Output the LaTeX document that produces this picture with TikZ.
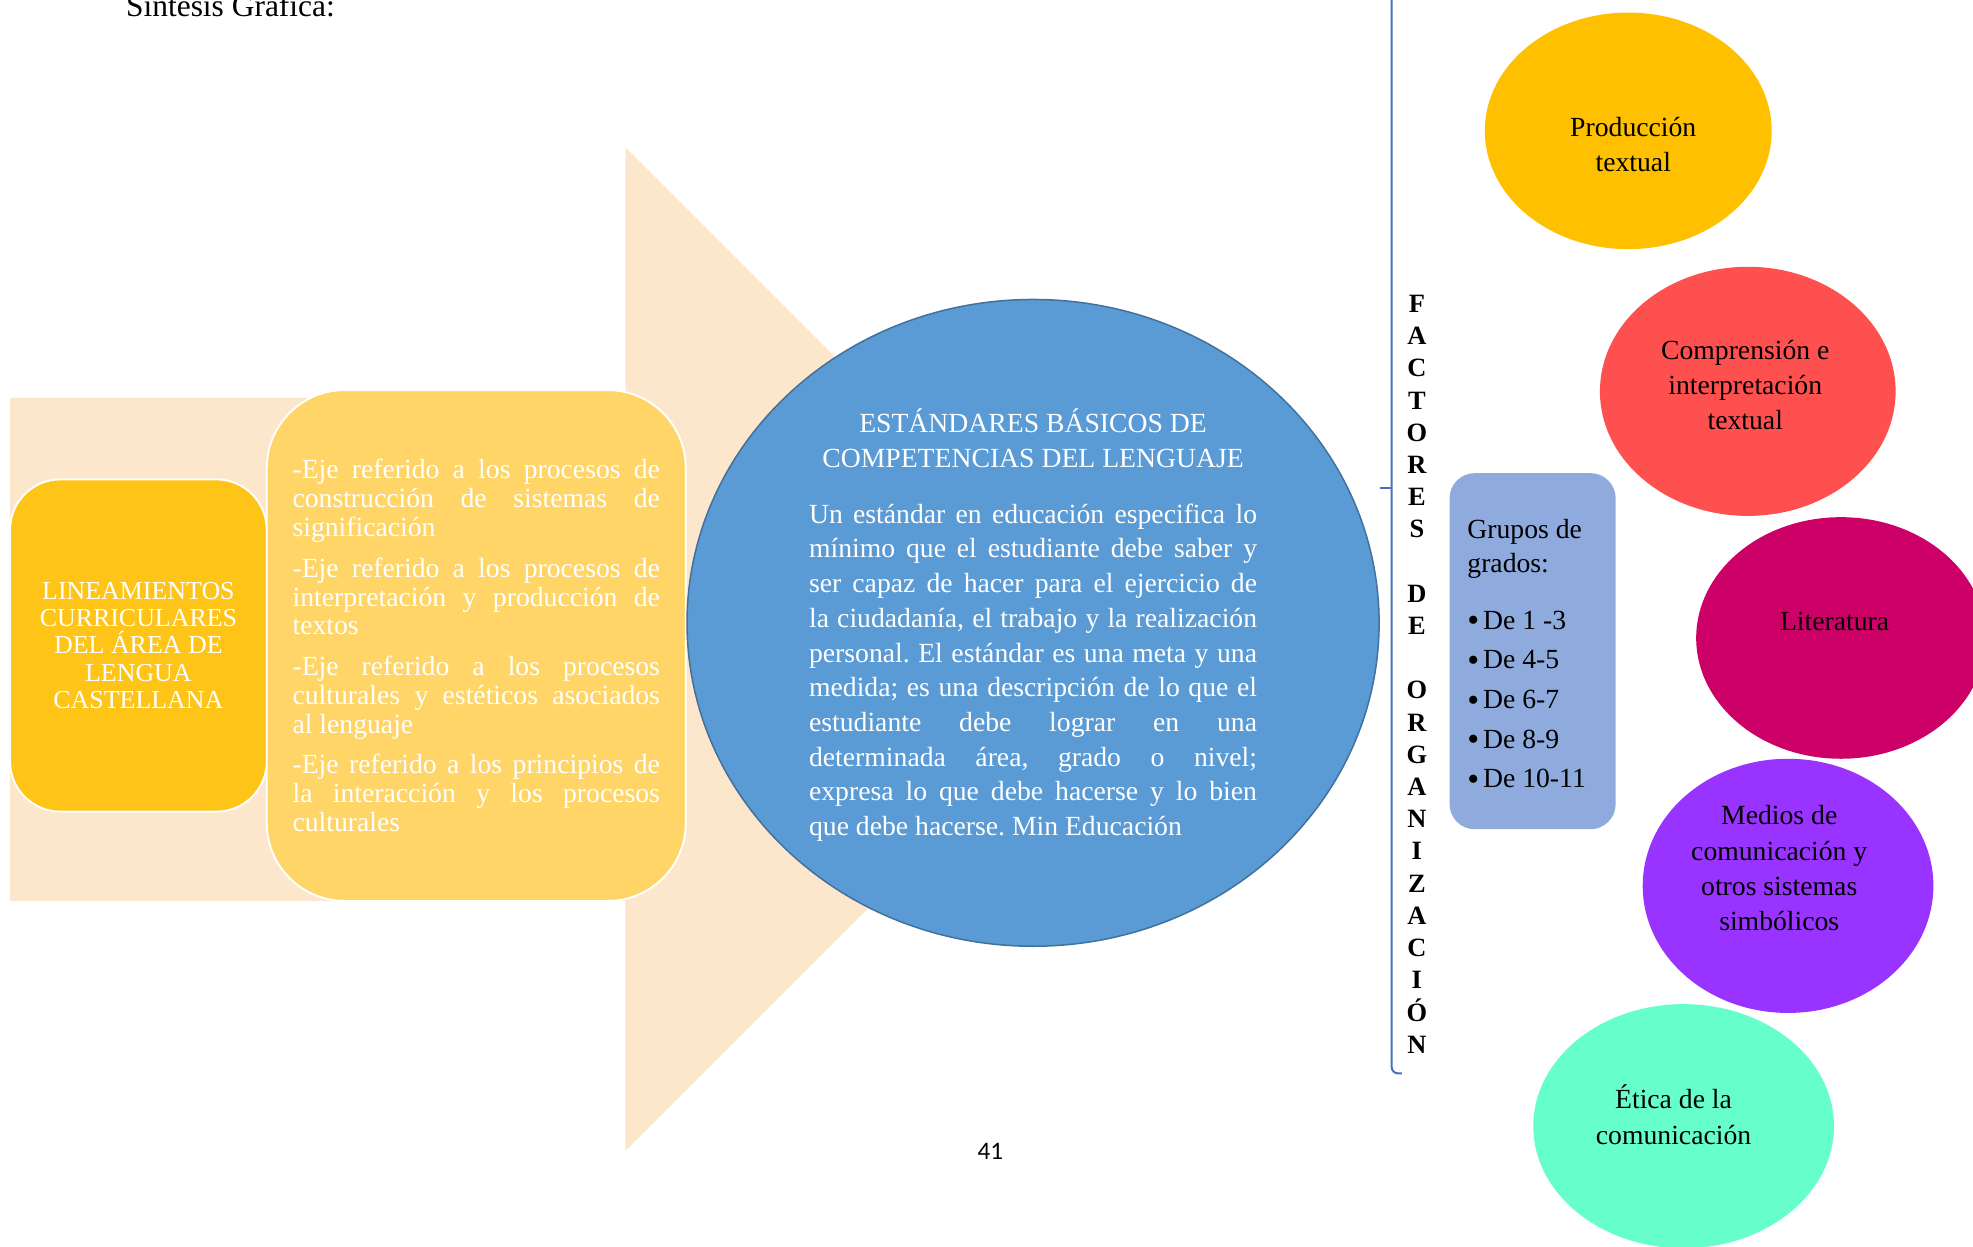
\documentclass[tikz,border=0pt]{standalone}
\usepackage{fontspec}
\setmainfont{Liberation Serif}
\newfontfamily\calibri{Carlito}
\usetikzlibrary{shapes.geometric}
\frenchspacing
\definecolor{melocoton}{RGB}{253,231,204}
\definecolor{dorado}{RGB}{254,196,24}
\definecolor{amarillo}{RGB}{255,213,104}
\definecolor{azul}{RGB}{91,155,213}
\definecolor{azulborde}{RGB}{65,113,156}
\definecolor{llave}{RGB}{68,114,196}
\definecolor{lila}{RGB}{143,170,220}
\definecolor{ambar}{RGB}{255,192,0}
\definecolor{coral}{RGB}{255,80,80}
\definecolor{frambuesa}{RGB}{204,0,102}
\definecolor{violeta}{RGB}{153,51,255}
\definecolor{menta}{RGB}{102,255,204}
\begin{document}
\begin{tikzpicture}[x=1pt,y=-1pt,
  caja/.style={draw=white,line width=1.5pt,rounded corners=#1,inner sep=0pt},
  blanco/.style={text=white,inner sep=0pt},
  elipse/.style={ellipse,inner sep=0pt},
  etxt/.style={align=center,inner sep=0pt,font=\fontsize{22}{28}\selectfont},
  gtxt/.style={anchor=base west,inner sep=0pt,font=\fontsize{22}{27}\selectfont},
  letra/.style={inner sep=0pt,text height=14.5pt,text depth=0pt,font=\fontsize{21}{21}\selectfont\bfseries}]
 \useasboundingbox (0,0) rectangle (1568,991);
 \clip (0,0) rectangle (1568,991);
 \node[anchor=base west,inner sep=0pt,font=\fontsize{25}{30}\selectfont] (titulo) at (100,13) {Síntesis Gráfica:};
 %
 \fill[melocoton] (8,316) -- (497,316) -- (497,117) -- (896,516) -- (497,915) -- (497,716) -- (8,716) -- cycle;
 %
 \node[caja=40,fill=dorado,minimum width=204,minimum height=264,text=white,align=center,
   font=\fontsize{20.6}{21.7}\selectfont] (lineam) at (110,513)
   {LINEAMIENTOS\\CURRICULARES\\DEL ÁREA DE\\LENGUA\\CASTELLANA};
 \node[caja=62,fill=amarillo,minimum width=333,minimum height=406,text width=292,text=white,align=justify,
   font=\fontsize{22}{23}\selectfont] (ejes) at (378.5,513)
   {-Eje referido a los procesos de\linebreak construcción de sistemas de\linebreak significación\\[9pt]
    -Eje referido a los procesos de\linebreak interpretación y producción de\linebreak textos\\[9pt]
    -Eje referido a los procesos\linebreak culturales y estéticos asociados\linebreak al lenguaje\\[9pt]
    -Eje referido a los principios de\linebreak la interacción y los procesos\linebreak culturales};
 %
 \node[elipse,fill=azul,draw=azulborde,line width=1.2pt,minimum width=550,minimum height=514] (estand) at (821,495) {};
 \node[blanco,align=center,font=\fontsize{22}{28}\selectfont] (estandtit) at (821,348)
   {ESTÁNDARES BÁSICOS DE\\COMPETENCIAS DEL LENGUAJE};
 \node[blanco,text width=356,align=justify,font=\fontsize{22}{27.6}\selectfont] (estandtxt) at (821,534.5)
   {Un estándar en educación especifica lo\linebreak mínimo que el estudiante debe saber y\linebreak
    ser capaz de hacer para el ejercicio de\linebreak la ciudadanía, el trabajo y la realización\linebreak
    personal. El estándar es una meta y una\linebreak medida; es una descripción de lo que el\linebreak
    estudiante debe lograr en una\linebreak determinada área, grado o nivel;\linebreak
    expresa lo que debe hacerse y lo bien\linebreak que debe hacerse. Min Educación};
 %
 \coordinate (llavearr) at (1106,-10);
 \coordinate (llaveaba) at (1106,853);
 \coordinate (llavefin) at (1114,853);
 \coordinate (llavemed) at (1106,388);
 \coordinate (llavepico) at (1097,388);
 \draw[llave,line width=1.6pt,rounded corners=5] (llavearr) -- (llaveaba) -- (llavefin);
 \draw[llave,line width=1.6pt] (llavemed) -- (llavepico);
 \foreach \l/\k in {F/0,A/1,C/2,T/3,O/4,R/5,E/6,S/7,D/9,E/10,O/12,R/13,G/14,A/15,N/16,I/17,Z/18,A/19,C/20,I/21,Ó/22,N/23}
   \node[letra] (v\k) at (1126,{241+25.6*\k}) {\l};
 %
 \node[fill=lila,rounded corners=20,minimum width=132,minimum height=283,inner sep=0pt] (grupos) at (1218,517.5) {};
 \node[gtxt] (grupostit) at (1166,428) {Grupos de};
 \node[gtxt] (gruposgra) at (1166,455) {grados:};
 \foreach \g [count=\i from 0] in {1 -3,4-5,6-7,8-9,10-11}
   \node[gtxt] (g\i) at (1166,{500+31.5*\i}) {\raisebox{-2.2pt}{\fontsize{27}{27}\selectfont\textbullet}\hspace{3pt}De \g};
 %
 \node[elipse,fill=ambar,minimum width=228,minimum height=188] (prod) at (1294,104) {};
 \node[etxt] (prodtxt) at (1298,115) {Producción\\textual};
 \node[elipse,fill=coral,minimum width=235,minimum height=198] (compr) at (1389,311) {};
 \node[etxt] (comprtxt) at (1387,306) {Comprensión e\\interpretación\\textual};
 \node[elipse,fill=frambuesa,minimum width=230,minimum height=192] (lit) at (1463,507) {};
 \node[etxt] (littxt) at (1458,494) {Literatura};
 \node[elipse,fill=violeta,minimum width=231,minimum height=202] (medios) at (1421,704) {};
 \node[etxt] (mediostxt) at (1414,690) {Medios de\\comunicación y\\otros sistemas\\simbólicos};
 \node[elipse,fill=menta,minimum width=239,minimum height=194] (etica) at (1338,895) {};
 \node[etxt] (eticatxt) at (1330,886) {Ética de la\\comunicación};
 %
 \node[inner sep=0pt,font=\calibri\fontsize{20}{24}\selectfont] (pagina) at (787,915) {41};
\end{tikzpicture}
\end{document}
